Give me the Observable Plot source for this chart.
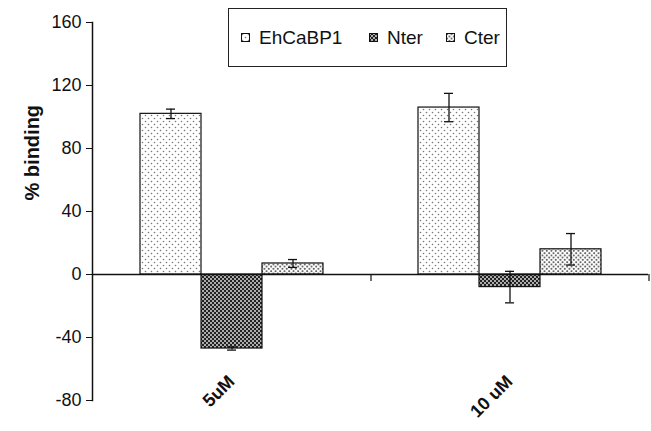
<!DOCTYPE html>
<html>
<head>
<meta charset="utf-8">
<script src="https://cdn.jsdelivr.net/npm/d3@7"></script>
<script src="https://cdn.jsdelivr.net/npm/@observablehq/plot@0.6"></script>
<style>
  html, body { margin: 0; padding: 0; background: #fff; }
  #wrap { position: relative; width: 651px; height: 431px; font-family: "Liberation Sans", Arial, sans-serif; }
  #legend { position: absolute; left: 228px; top: 8px; width: 277px; height: 57px; border: 1.5px solid #222; background: #fff; }
  #legend .item { position: absolute; top: 0; height: 57px; display: flex; align-items: center; font-size: 19px; color: #111; }
  #legend .sw { width: 9px; height: 9px; margin-right: 9px; }
</style>
</head>
<body>
<svg width="0" height="0" style="position:absolute">
  <defs>
    <pattern id="patE" width="6" height="6" patternUnits="userSpaceOnUse">
      <rect width="6" height="6" fill="#fff"/>
      <circle cx="1.5" cy="1.5" r="0.8" fill="#777"/>
      <circle cx="4.5" cy="4.5" r="0.8" fill="#777"/>
    </pattern>
    <pattern id="patN" width="4" height="4" patternUnits="userSpaceOnUse">
      <rect width="4" height="4" fill="#222"/>
      <circle cx="1" cy="1" r="0.9" fill="#eee"/>
      <circle cx="3" cy="3" r="0.9" fill="#eee"/>
    </pattern>
    <pattern id="patC" width="4.5" height="4.5" patternUnits="userSpaceOnUse">
      <rect width="4.5" height="4.5" fill="#fff"/>
      <circle cx="1.1" cy="1.1" r="0.9" fill="#333"/>
      <circle cx="3.35" cy="3.35" r="0.9" fill="#333"/>
    </pattern>
  </defs>
</svg>
<div id="wrap">
  <div id="chart"></div>
  <div id="legend"></div>
</div>
<script>
const concentrations = ["5uM", "10 uM"];
const seriesNames = ["EhCaBP1", "Nter", "Cter"];
const values5uM  = [102, -47, 7];
const errors5uM  = [3, 1, 2.5];
const values10uM = [106, -8, 16];
const errors10uM = [9, 10, 10];
const yTicks = [-80, -40, 0, 40, 80, 120, 160];
const patterns = ["url(#patE)", "url(#patN)", "url(#patC)"];

const rows = [];
[values5uM, values10uM].forEach((vals, i) => {
  const errs = i === 0 ? errors5uM : errors10uM;
  vals.forEach((v, j) => rows.push({conc: concentrations[i], series: seriesNames[j], value: v, lo: v - errs[j], hi: v + errs[j]}));
});

const chart = Plot.plot({
  width: 651,
  height: 431,
  marginLeft: 92,
  marginRight: 3,
  marginTop: 22,
  marginBottom: 31,
  style: {fontFamily: "Liberation Sans, Arial, sans-serif", fontSize: "18px", color: "#111", background: "transparent"},
  fx: {domain: concentrations, padding: 0, axis: null, label: null},
  x: {domain: seriesNames, paddingInner: 0, paddingOuter: 0.76, axis: null},
  y: {domain: [-80, 160], axis: null},
  color: {domain: seriesNames, range: patterns},
  marks: [
    Plot.axisY({ticks: yTicks, tickFormat: d => String(d), tickSize: 6, tickPadding: 5, fontSize: 18, label: null, anchor: "left"}),
    Plot.frame({anchor: "left", facetAnchor: "left", stroke: "#111", strokeWidth: 1.5}),
    Plot.barY(rows, {fx: "conc", x: "series", y: "value", fill: "series", stroke: "#111", strokeWidth: 1.2}),
    Plot.ruleY([0], {stroke: "#111", strokeWidth: 1.5}),
    Plot.ruleX(rows.filter(d => d.series === "Cter"), {fx: "conc", x: "series", y1: 0, y2: -4.5, dx: 78, stroke: "#111", strokeWidth: 1.2}),
    Plot.ruleX(rows, {fx: "conc", x: "series", y1: "lo", y2: "hi", stroke: "#111", strokeWidth: 1.3}),
    Plot.tickY(rows, {fx: "conc", x: "series", y: "lo", insetLeft: 26, insetRight: 26, stroke: "#111", strokeWidth: 1.3}),
    Plot.tickY(rows, {fx: "conc", x: "series", y: "hi", insetLeft: 26, insetRight: 26, stroke: "#111", strokeWidth: 1.3}),
    Plot.text(concentrations, {fx: d => d, text: d => d, y: -66, rotate: -45, textAnchor: "end", fontWeight: "bold", fontSize: 18}),
    Plot.text(["% binding"], {fx: () => concentrations[0], text: d => d, y: 47, frameAnchor: "left", dx: -60, rotate: -90, fontWeight: "bold", fontSize: 20})
  ]
});
document.getElementById("chart").appendChild(chart);

const legendLefts = [12, 140, 217];
const legend = d3.select("#legend");
seriesNames.forEach((name, i) => {
  const item = legend.append("div").attr("class", "item").style("left", legendLefts[i] + "px");
  item.append("svg").attr("class", "sw").attr("width", 9).attr("height", 9)
    .append("rect").attr("x", 0.5).attr("y", 0.5).attr("width", 8).attr("height", 8)
    .attr("fill", patterns[i]).attr("stroke", "#111").attr("stroke-width", 1);
  item.append("span").text(name);
});
</script>
</body>
</html>
